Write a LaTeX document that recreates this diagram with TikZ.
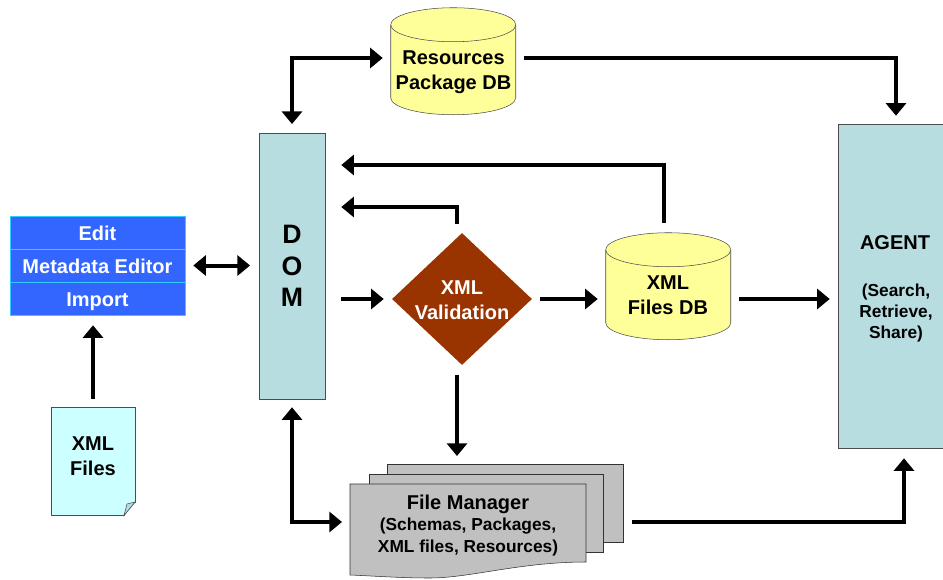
\documentclass[tikz,border=0pt]{standalone}
\usepackage{fontspec}
\setmainfont{Liberation Sans}
\usetikzlibrary{arrows.meta,shapes.geometric}
\definecolor{menublue}{HTML}{3366FF}
\definecolor{menuline}{HTML}{33CCFF}
\definecolor{boxteal}{HTML}{B7DDE0}
\definecolor{dbyellow}{HTML}{FFFF99}
\definecolor{fileblue}{HTML}{CCFFFF}
\definecolor{checkbrown}{HTML}{993300}
\definecolor{pagegray}{HTML}{C0C0C0}
\newcommand{\bigfont}{\fontsize{15}{19}\selectfont\bfseries}
\newcommand{\smallfont}{\fontsize{13}{16}\selectfont\bfseries}
% the drum round a database node
\newcommand{\drum}[1]{
		\draw [drumline] (#1.north west) ++(0,-17) arc (180:0:46.875pt and 12.75pt) -- ++(0,-73) arc (0:-180:46.875pt and 12.75pt) -- cycle;
		\draw [drumline] (#1.north west) ++(0,-17) arc (180:360:46.875pt and 12.75pt);
}

\begin{document}
\begin{tikzpicture}[x=0.75pt,y=0.75pt]
		\tikzset{
			every node/.style={inner sep=0pt,align=center},
			menurow/.style={draw=menuline,fill=menublue,text=white,minimum width=131.25pt,minimum height=24.75pt,text height=11.8pt,text depth=0pt,font=\bigfont},
			tealbox/.style={draw=black!70,fill=boxteal,font=\bigfont},
			database/.style={minimum width=93.75pt,minimum height=80.25pt},
			drumline/.style={draw=black!70,fill=dbyellow},
			pagesheet/.style={draw=black!80,fill=pagegray},
			link/.style={line width=3pt,-{Triangle[length=9.5pt,width=15pt]}},
			twoway/.style={line width=3pt,{Triangle[length=9.5pt,width=15pt]}-{Triangle[length=9.5pt,width=15pt]}}
		}
		\useasboundingbox (0,0) rectangle (943,-579);
		% left side
		\node [menurow] (edit) at (97.5,-232.5) {Edit};
		\node [menurow] (meta) at (97.5,-265.5) {Metadata Editor};
		\node [menurow] (import) at (97.5,-298.5) {Import};
		\node [draw=black!70,fill=fileblue,minimum width=63pt,minimum height=81pt] (xmlfile) at (93,-461) {};
		\node [font=\bigfont] (xmlfilename) at (93,-456.5) {XML\\Files};
		\fill [white] (136.5,-502) -- (136.5,-517) -- (123.5,-517) -- cycle;
		\draw [black!70] (135,-502) -- (124,-515.5) -- (51,-515.5);
		\draw [black!70,fill=boxteal] (135,-502) -- (127,-504) -- (124,-515.5) -- cycle;
		% middle boxes
		\node [tealbox,minimum width=49.5pt,minimum height=199.5pt,font=\fontsize{20}{23.5}\selectfont\bfseries] (dom) at (292,-266) {D\\O\\M};
		\node [database] (resdb) at (453.5,-61.5) {};
		\drum{resdb}
		\node [font=\bigfont] (resname) at (453.5,-72) {Resources\\Package DB};
		\node [database] (xmldb) at (668.5,-286.5) {};
		\drum{xmldb}
		\node [font=\bigfont] (xmlname) at (668,-295) {XML\\Files DB};
		\node [diamond,aspect=1.06,fill=checkbrown,minimum width=105pt,minimum height=99pt] (check) at (462,-299) {};
		\node [text=white,font=\bigfont] (checkname) at (462,-300.5) {XML\\Validation};
		\node [tealbox,minimum width=78.75pt,minimum height=243pt] (agent) at (890.5,-286) {};
		\node [font=\bigfont] (agentname) at (895,-243) {AGENT};
		\node [font=\smallfont] (agentuse) at (896,-313) {(Search,\\Retrieve,\\Share)};
		% file manager pages
		\draw [pagesheet] (387,-464) rectangle (623,-542);
		\draw [pagesheet] (369,-474) rectangle (603,-552);
		\draw [pagesheet] (350,-484) -- (586,-484) -- (586,-562) .. controls (520,-562) and (470,-578) .. (430,-578) .. controls (400,-578) and (375,-576) .. (350,-575) -- cycle;
		\node [minimum width=177pt,minimum height=60pt] (files) at (468,-525) {};
		\node [font=\bigfont] (filesname) at (468,-504) {File Manager};
		\node [font=\smallfont] (filesuse) at (468,-537) {(Schemas, Packages,\\XML files, Resources)};
		% elbows
		\coordinate (topleft) at (292,-58);
		\coordinate (topright) at (896,-58);
		\coordinate (lowleft) at (292,-522);
		\coordinate (lowright) at (904,-522);
		\coordinate (backone) at (664,-165);
		\coordinate (backtwo) at (457,-207);
		\coordinate (domone) at (dom.east |- backone);
		\coordinate (domtwo) at (dom.east |- backtwo);
		% connectors
		\draw [link,shorten <=6pt,shorten >=7.5pt] (xmlfile.north) -- (xmlfile.north |- import.south);
		\draw [twoway,shorten <=6pt,shorten >=6.5pt] (meta.east) -- (meta.east -| dom.west);
		\draw [twoway,shorten <=6.5pt,shorten >=6pt] (dom.north) -- (topleft) -- (resdb.west |- topleft);
		\draw [link,shorten <=6pt,shorten >=6pt] (resdb.east |- topleft) -- (topright) -- (topright |- agent.north);
		\draw [link,shorten <=7.5pt,shorten >=12pt] (xmldb.north -| backone) -- (backone) -- (domone);
		\draw [link,shorten <=6.5pt,shorten >=12pt] (check.north -| backtwo) -- (backtwo) -- (domtwo);
		\draw [link,shorten <=12pt,shorten >=6pt] (dom.east |- check.west) -- (check.west);
		\draw [link,shorten <=6pt,shorten >=6pt] (check.east) -- (check.east -| xmldb.west);
		\draw [link,shorten <=6pt,shorten >=6pt] (xmldb.east |- check.east) -- (agent.west |- check.east);
		\draw [link,shorten <=7pt,shorten >=6pt] (check.south -| backtwo) -- (backtwo |- 0,-464);
		\draw [twoway,shorten <=6pt,shorten >=6pt] (dom.south) -- (lowleft) -- (350,-522);
		\draw [link,shorten <=34.5pt,shorten >=7.5pt] (files.east |- lowright) -- (lowright) -- (lowright |- agent.south);
		\end{tikzpicture}
\end{document}
